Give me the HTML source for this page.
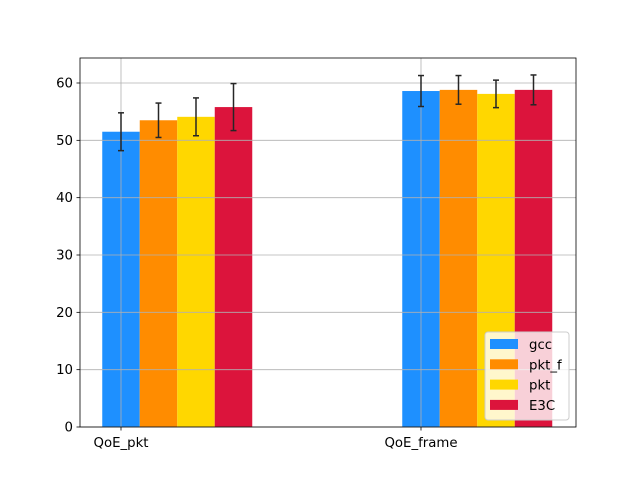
<!DOCTYPE html>
<html><head><meta charset="utf-8"><style>body{margin:0;background:#fff}svg{display:block;font-family:"DejaVu Sans","Liberation Sans",sans-serif}</style></head>
<body>
<svg id="chart" width="640" height="480"></svg>
<script>
const categories=["QoE_pkt","QoE_frame"];
const seriesNames=["gcc","pkt_f","pkt","E3C"];
const seriesColors=["#1e90ff","#ff8c00","#ffd700","#dc143c"];
const gccValues=[51.5,58.6];
const pktfValues=[53.5,58.8];
const pktValues=[54.1,58.1];
const e3cValues=[55.8,58.8];
const gccErr=[3.3,2.7];
const pktfErr=[3.0,2.5];
const pktErr=[3.3,2.4];
const e3cErr=[4.1,2.6];
const yTicks=[0,10,20,30,40,50,60];
const values=[gccValues,pktfValues,pktValues,e3cValues];
const errs=[gccErr,pktfErr,pktErr,e3cErr];
const NS="http://www.w3.org/2000/svg";
const svg=document.getElementById('chart');
const L=80,R=576,T=58,B=427,yMax=64.36;
const y=v=>B-(B-T)*v/yMax;
const xc=i=>121+300*i;
const bw=37.5;
function mk(t,a){const e=document.createElementNS(NS,t);for(const k in a)e.setAttribute(k,a[k]);svg.appendChild(e);return e;}
values.forEach((arr,s)=>arr.forEach((v,i)=>{
  const x0=xc(i)-bw/2+s*bw;
  const r=mk('rect',{x:x0,y:y(v),width:bw,height:B-y(v),fill:seriesColors[s]});
  
  
}));
yTicks.forEach(t=>{const g=mk('line',{x1:L,x2:R,y1:y(t),y2:y(t),stroke:'#b0b0b0','stroke-width':0.8});
  });
categories.forEach((c,i)=>{const g=mk('line',{x1:xc(i),x2:xc(i),y1:T,y2:B,stroke:'#b0b0b0','stroke-width':0.8});
  });
values.forEach((arr,s)=>arr.forEach((v,i)=>{
  const cx=xc(i)+s*bw;const e=errs[s][i];
  const g=mk('g',{stroke:'#262626','stroke-width':1.5});
  
  [[cx,y(v-e),cx,y(v+e)],[cx-3,y(v-e),cx+3,y(v-e)],[cx-3,y(v+e),cx+3,y(v+e)]].forEach(p=>{
    const l=document.createElementNS(NS,'line');l.setAttribute('x1',p[0]);l.setAttribute('y1',p[1]);l.setAttribute('x2',p[2]);l.setAttribute('y2',p[3]);g.appendChild(l);});
}));
const f=mk('rect',{x:L,y:T,width:R-L,height:B-T,fill:'none',stroke:'#000','stroke-width':0.8});

yTicks.forEach(t=>{mk('line',{x1:L-3.5,x2:L,y1:y(t),y2:y(t),stroke:'#000','stroke-width':0.8});
  const tx=mk('text',{x:L-7,y:y(t)+4.5,'text-anchor':'end','font-size':13.3});tx.textContent=t;
  });
categories.forEach((c,i)=>{mk('line',{x1:xc(i),x2:xc(i),y1:B,y2:B+3.5,stroke:'#000','stroke-width':0.8});
  const tx=mk('text',{x:xc(i),y:B+20,'text-anchor':'middle','font-size':13.3});tx.textContent=c;
  });
const lg=mk('rect',{x:485,y:332,width:84,height:88,rx:3,fill:'#fff','fill-opacity':0.8,stroke:'#ccc'});

seriesNames.forEach((n,s)=>{const yy=339+s*20.3;
  const sw=mk('rect',{x:490,y:yy,width:28,height:10,fill:seriesColors[s]});
  
  const t=mk('text',{x:529,y:yy+10,'font-size':13.3});t.textContent=n;
  });
</script>
</body></html>
